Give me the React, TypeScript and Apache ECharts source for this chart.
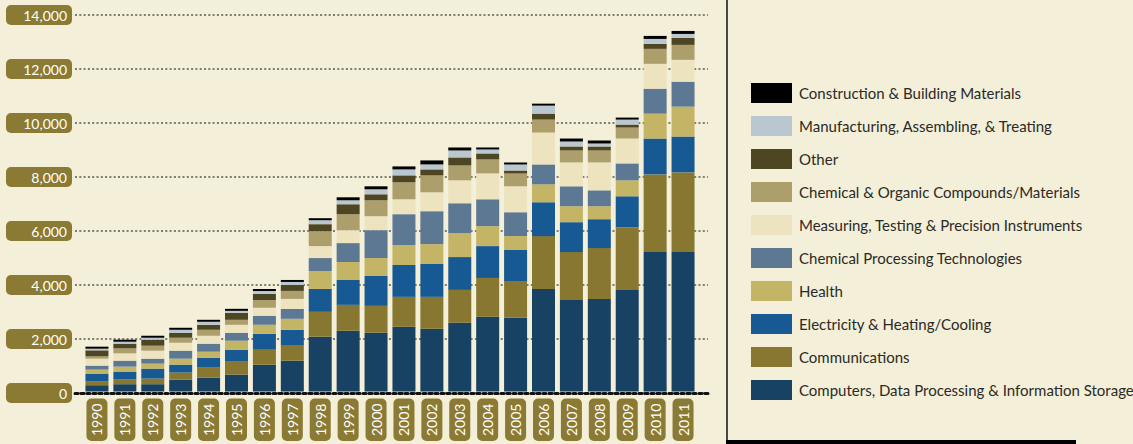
import React, { useEffect, useRef } from "react";
import * as echarts from "echarts";

const years = ["1990","1991","1992","1993","1994","1995","1996","1997","1998","1999","2000","2001","2002","2003","2004","2005","2006","2007","2008","2009","2010","2011"];

const computers = [235,272,272,444,519,630,1000,1148,2037,2259,2185,2407,2333,2556,2778,2741,3815,3407,3444,3778,5185,5185];
const communications = [135,172,209,260,370,481,556,556,926,963,1000,1112,1186,1222,1444,1370,1963,1778,1889,2333,2889,2963];
const electricity = [297,297,371,296,370,445,592,592,852,926,1111,1185,1222,1222,1185,1148,1259,1111,1074,1148,1333,1333];
const health = [148,185,185,222,222,333,333,408,666,667,667,740,740,889,741,519,667,593,482,593,926,1112];
const chemProcessing = [148,222,185,297,297,296,334,370,482,704,1037,1149,1223,1111,1000,889,740,741,592,629,926,926];
const measuring = [259,272,297,296,296,296,296,370,444,481,519,555,703,852,963,963,1186,889,1038,926,926,814];
const chemOrganic = [87,185,185,185,222,186,296,297,556,593,592,630,630,555,519,481,481,444,444,408,556,556];
const other = [222,173,222,185,185,259,223,222,259,370,222,259,222,297,222,111,222,148,148,111,185,259];
const manufacturing = [62,74,74,111,112,74,111,111,148,148,186,222,185,259,148,222,297,185,111,185,185,148];
const construction = [74,74,74,74,74,74,74,74,74,111,111,111,149,111,74,75,74,111,111,74,111,111];

const seriesNames = [
  "Computers, Data Processing & Information Storage",
  "Communications",
  "Electricity & Heating/Cooling",
  "Health",
  "Chemical Processing Technologies",
  "Measuring, Testing & Precision Instruments",
  "Chemical & Organic Compounds/Materials",
  "Other",
  "Manufacturing, Assembling, & Treating",
  "Construction & Building Materials",
];
const seriesColors = ["#184264","#877730","#175a93","#c4b465","#5d7893","#ede3bf","#ac9f6c","#4e4522","#b9c8d0","#000000"];
const seriesData = [computers, communications, electricity, health, chemProcessing, measuring, chemOrganic, other, manufacturing, construction];

const FONT = "Lato, 'Open Sans', sans-serif";
const OLIVE = "#8a7a33";

export default function App() {
  const ref = useRef<HTMLDivElement>(null);
  useEffect(() => {
    if (!ref.current) return;
    const chart = echarts.init(ref.current, null, { renderer: "svg" });
    const series: any[] = seriesNames.map((name, i) => ({
      name,
      type: "bar",
      stack: "total",
      xAxisIndex: 0,
      yAxisIndex: 0,
      barWidth: 23,
      itemStyle: { color: seriesColors[i] },
      data: seriesData[i],
      z: 2,
    }));
    chart.setOption({
      animation: false,
      backgroundColor: "#f4efd9",
      textStyle: { fontFamily: FONT },
      grid: [
        { left: 83, width: 614, top: 15, height: 378, containLabel: false },
        { left: 75, width: 633, top: 15, height: 378, containLabel: false },
      ],
      xAxis: [
        {
          type: "category",
          gridIndex: 0,
          data: years,
          axisLine: { show: false },
          axisTick: { show: false },
          axisLabel: {
            rotate: 90,
            margin: 7,
            color: "#ffffff",
            fontSize: 14,
            fontFamily: FONT,
            lineHeight: 15,
            backgroundColor: OLIVE,
            borderRadius: 5,
            padding: [3, 5, 3, 5],
            interval: 0,
          },
        },
        {
          type: "value",
          gridIndex: 1,
          min: 0,
          max: 1,
          axisLabel: { show: false },
          axisTick: { show: false },
          splitLine: { show: false },
          axisLine: { show: true, lineStyle: { color: "#111111", width: 3, type: [3, 3] } },
          z: 5,
        },
      ],
      yAxis: [
        {
          type: "value",
          gridIndex: 0,
          min: 0,
          max: 14000,
          interval: 2000,
          show: false,
          splitLine: { show: false },
        },
        {
          type: "value",
          gridIndex: 1,
          min: 0,
          max: 14000,
          interval: 2000,
          axisLine: { show: false },
          axisTick: { show: false },
          splitLine: { show: true, lineStyle: { color: "#55554c", width: 1.5, type: [2, 2.3] } },
          axisLabel: {
            margin: 3,
            color: "#ffffff",
            fontSize: 14,
            fontFamily: FONT,
            lineHeight: 14,
            width: 56,
            align: "right",
            backgroundColor: OLIVE,
            borderRadius: 5,
            padding: [3, 5, 3, 5],
            formatter: (v: number) => v.toLocaleString("en-US"),
          },
        },
      ],
      legend: {
        left: 746,
        top: 78,
        orient: "vertical",
        itemWidth: 41,
        itemHeight: 20,
        itemGap: 13,
        icon: "rect",
        data: [...seriesNames].reverse(),
        textStyle: { fontSize: 15, color: "#2b2a26", fontFamily: FONT, padding: [0, 0, 0, 2] },
        selectedMode: false,
      },
      graphic: [
        { type: "line", shape: { x1: 727, y1: 0, x2: 727, y2: 441 }, style: { stroke: "#4a4a44", lineWidth: 2 } },
        { type: "rect", shape: { x: 726, y: 440, width: 350, height: 4 }, style: { fill: "#000000" } },
      ],
      series,
    });
    return () => chart.dispose();
  }, []);
  return (
    <div
      ref={ref}
      style={{ position: "fixed", left: 0, top: 0, width: 1133, height: 444 }}
    />
  );
}
